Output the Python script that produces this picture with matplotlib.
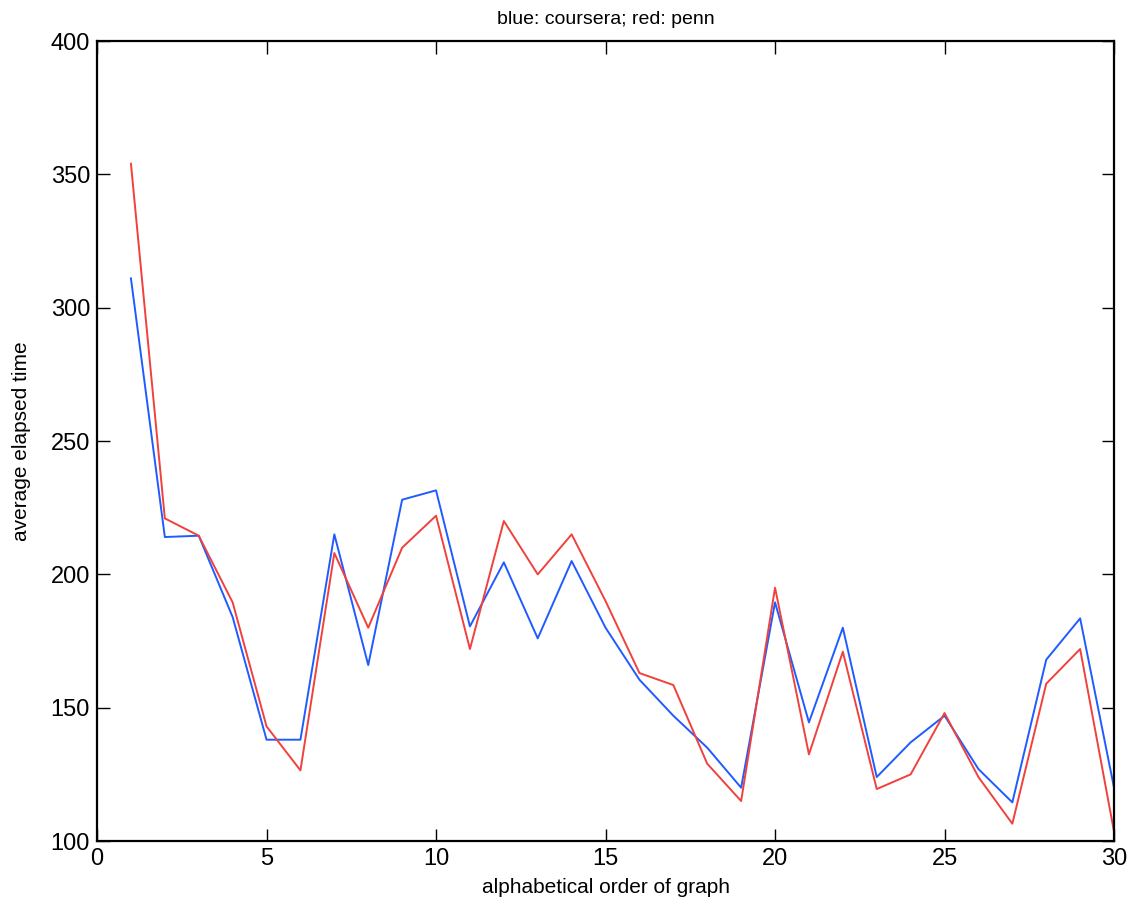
import matplotlib
matplotlib.use("Agg")
import matplotlib.pyplot as plt

# 数据
order = list(range(1, 31))
coursera = [311, 214, 214.5, 184, 138, 138, 215, 166, 228, 231.5,
            180.5, 204.5, 176, 205, 180, 160.5, 147, 135, 120, 189.5,
            144.5, 180, 124, 137, 147, 127, 114.5, 168, 183.5, 120]
penn = [354, 221, 214.5, 189.5, 143, 126.5, 208, 180, 210, 222,
        172, 220, 200, 215, 190, 163, 158.5, 129, 115, 195,
        132.5, 171, 119.5, 125, 148, 124, 106.5, 159, 172, 103.5]
xticks = [0, 5, 10, 15, 20, 25, 30]
yticks = [100, 150, 200, 250, 300, 350, 400]

plt.rcParams['font.family'] = ['Liberation Sans Narrow', 'Liberation Sans', 'DejaVu Sans']

fig = plt.figure(figsize=(11.31, 9.06), dpi=100)
ax = fig.add_axes([0.0858, 0.0717, 0.8992, 0.883])

ax.plot(order, coursera, color="#1f5bff", linewidth=1.4)
ax.plot(order, penn, color="#f0413c", linewidth=1.4)

ax.set_xlim(0, 30)
ax.set_ylim(100, 400)
ax.set_xticks(xticks)
ax.set_yticks(yticks)
ax.tick_params(direction="in", length=9, width=1, labelsize=17,
               top=True, right=True, pad=5)
for s in ax.spines.values():
    s.set_linewidth(1.6)

ax.set_title("blue: coursera; red: penn", fontsize=14, pad=12)
ax.set_xlabel("alphabetical order of graph", fontsize=15, labelpad=6)
ax.set_ylabel("average elapsed time", fontsize=15, labelpad=14)

fig.savefig("out.png", dpi=100)
